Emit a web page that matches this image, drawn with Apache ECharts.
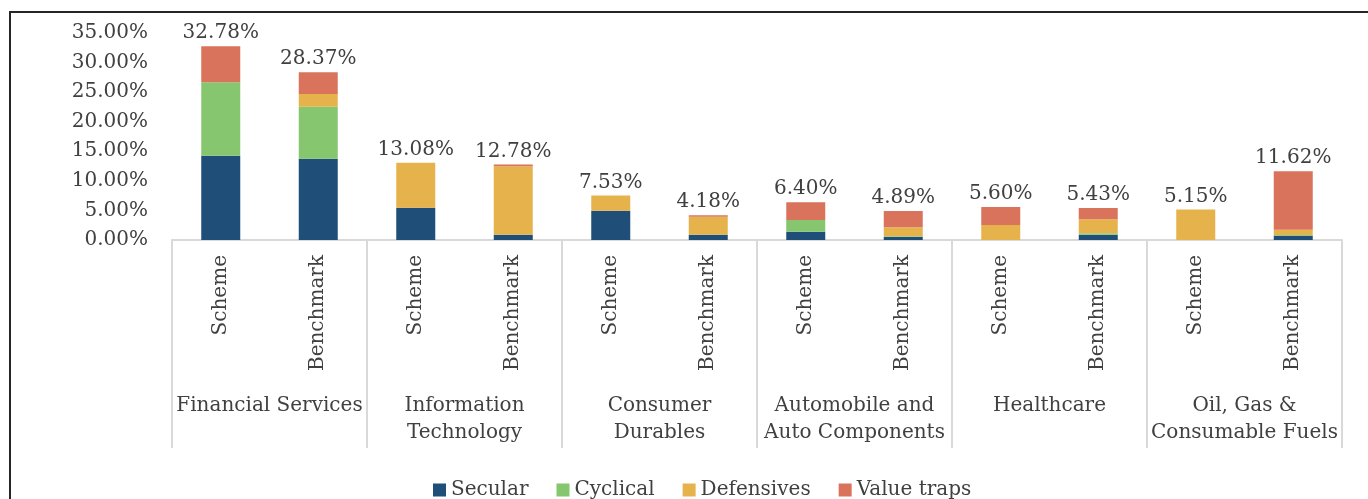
<!DOCTYPE html>
<html>
<head>
<meta charset="utf-8">
<script src="https://cdn.jsdelivr.net/npm/echarts@6/dist/echarts.min.js"></script>
<style>
    html, body { margin: 0; padding: 0; background: #fff; }
    .chart-box { width: 1368px; height: 499px; }
</style>
</head>
<body>
<div class="chart-box"></div>
<script>
    // inner level (bars) and outer level (sectors)
    let barNames = ['Scheme', 'Benchmark', 'Scheme', 'Benchmark', 'Scheme', 'Benchmark',
        'Scheme', 'Benchmark', 'Scheme', 'Benchmark', 'Scheme', 'Benchmark']
    let sectors = ['Financial Services', 'Information\nTechnology', 'Consumer\nDurables',
        'Automobile and\nAuto Components', 'Healthcare', 'Oil, Gas &\nConsumable Fuels']

    // values in %
    let secular = [14.25, 13.75, 5.46, 0.9, 4.96, 0.9, 1.41, 0.5, 0, 0.9, 0, 0.7]
    let cyclical = [12.42, 8.79, 0, 0, 0, 0, 1.97, 0.15, 0, 0.25, 0, 0.15]
    let defensives = [0, 2.15, 7.62, 11.58, 2.57, 3.03, 0, 1.49, 2.54, 2.35, 5.15, 0.9]
    let valueTraps = [6.11, 3.68, 0, 0.3, 0, 0.25, 3.02, 2.75, 3.06, 1.93, 0, 9.87]
    let totals = [32.78, 28.37, 13.08, 12.78, 7.53, 4.18, 6.40, 4.89, 5.60, 5.43, 5.15, 11.62]

    let font = 'DejaVu Serif'
    let textColor = '#404040'
    let fontSize = 20

    let chart = echarts.init(document.getElementsByClassName('chart-box')[0])

    function barSeries(name, data, color) {
        return {
            name: name,
            type: 'bar',
            stack: 'total',
            barWidth: '40%',
            xAxisIndex: 0,
            data: data,
            itemStyle: { color: color },
            emphasis: { disabled: true }
        }
    }

    let series = [
        barSeries('Secular', secular, '#1f4e79'),
        barSeries('Cyclical', cyclical, '#86c66f'),
        barSeries('Defensives', defensives, '#e6b24b'),
        barSeries('Value traps', valueTraps, '#d9735c')
    ]
    // total label on top of stack
    series[3].label = {
        show: true,
        position: 'top',
        distance: 3,
        fontFamily: font,
        fontSize: fontSize,
        color: textColor,
        formatter: function (p) {
            return totals[p.dataIndex].toFixed(2) + '%'
        }
    }

    let option = {
        animation: false,
        textStyle: { fontFamily: font },
        grid: {
            left: 172,
            right: 26,
            top: 33,
            bottom: 259
        },
        legend: {
            top: 475,
            left: 428,
            icon: 'rect',
            itemWidth: 13,
            itemHeight: 13,
            itemGap: 28,
            textStyle: { fontFamily: font, fontSize: fontSize, color: textColor },
            data: ['Secular', 'Cyclical', 'Defensives', 'Value traps']
        },
        xAxis: [
            {
                type: 'category',
                position: 'bottom',
                data: barNames,
                axisLine: { lineStyle: { color: '#d9d9d9', width: 2 } },
                axisTick: { show: false },
                axisLabel: {
                    interval: 0,
                    rotate: 90,
                    margin: 15,
                    fontFamily: font,
                    fontSize: fontSize,
                    color: textColor
                }
            },
            {
                type: 'category',
                position: 'bottom',
                data: sectors,
                axisLine: { show: false },
                axisTick: { show: true, interval: 0, length: 208, lineStyle: { color: '#d9d9d9', width: 2 } },
                axisLabel: {
                    interval: 0,
                    margin: 152,
                    verticalAlign: 'top',
                    lineHeight: 27,
                    fontFamily: font,
                    fontSize: fontSize,
                    color: textColor
                }
            }
        ],
        yAxis: {
            type: 'value',
            min: 0,
            max: 35,
            interval: 5,
            splitLine: { show: false },
            axisLine: { show: false },
            axisTick: { show: false },
            axisLabel: {
                margin: 24,
                fontFamily: font,
                fontSize: fontSize,
                color: textColor,
                formatter: function (v) { return v.toFixed(2) + '%' }
            }
        },
        graphic: [
            {
                type: 'rect',
                shape: { x: 10, y: 12, width: 1400, height: 600 },
                style: { fill: 'none', stroke: '#262626', lineWidth: 2 },
                silent: true
            }
        ],
        series: series
    }

    chart.setOption(option)
</script>
</body>
</html>
